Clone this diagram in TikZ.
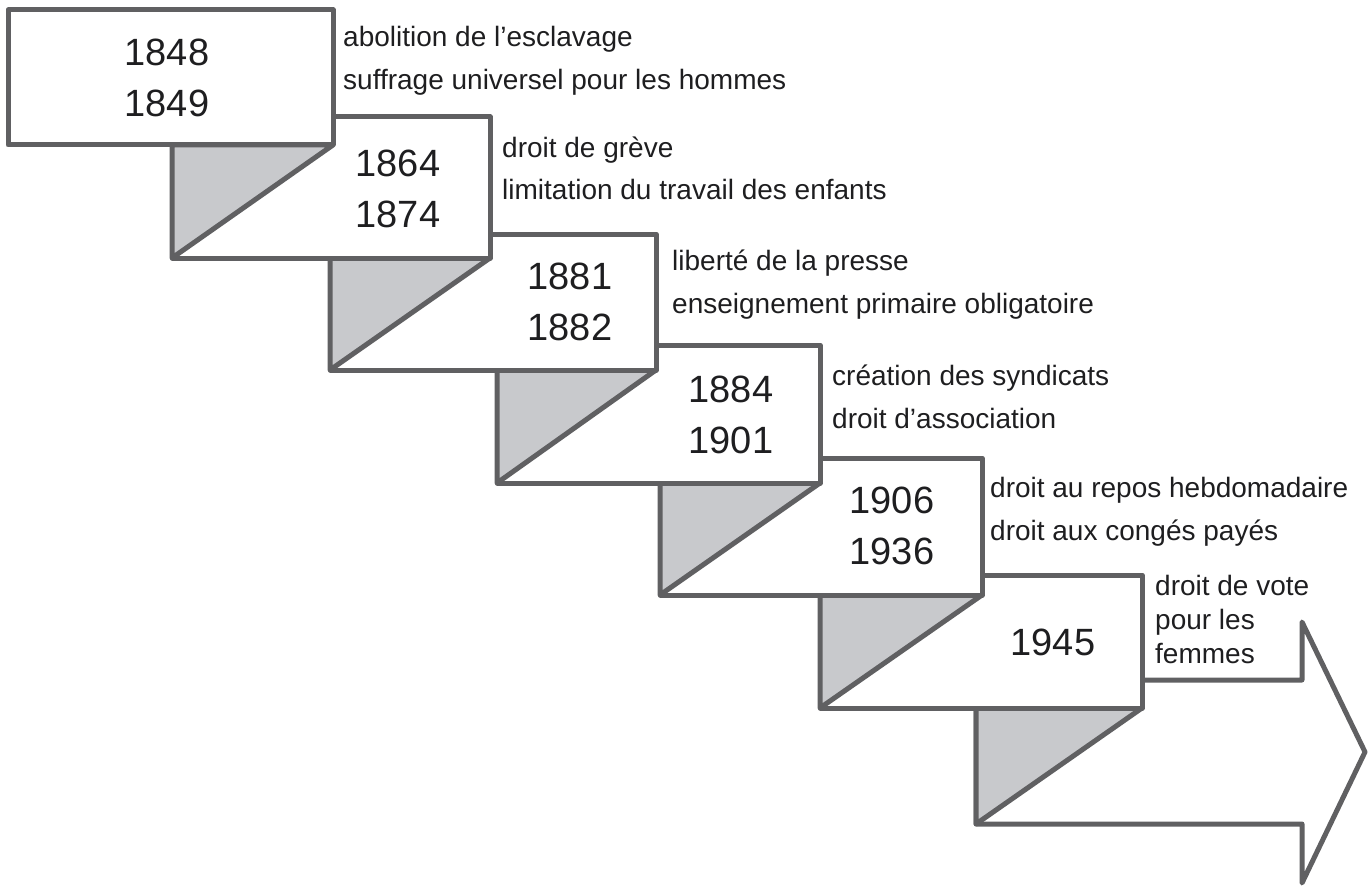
\documentclass[tikz,border=0pt]{standalone}
\usepackage{fontspec}
\setmainfont{Liberation Sans}
\usepackage{xcolor}
\definecolor{stepline}{RGB}{96, 96, 98}
\definecolor{stepshade}{RGB}{200, 201, 204}
\definecolor{inkgrey}{RGB}{30, 30, 32}
\usetikzlibrary{positioning}

\begin{document}
\begin{tikzpicture}[x=1pt, y=-1pt,
    stepedge/.style={line width=5pt, draw=stepline, line join=round},
    yearlabel/.style={align=center, inner sep=0pt, text=inkgrey,
      font=\fontsize{38}{51}\selectfont},
    notelabel/.style={align=left, anchor=base west, inner sep=0pt, text=inkgrey,
      font=\fontsize{28}{43}\selectfont}]

  \useasboundingbox (0,0) rectangle (1371,888);

  % ---------- final arrow and its shaded corner ----------
  \draw[stepedge, fill=white] (976,680) -- (1302,680) -- (1302,622) -- (1365,752)
    -- (1302,883) -- (1302,824) -- (976,824) -- cycle;
  \draw[stepedge, fill=stepshade] (976,708) -- (1142,708) -- (976,824) -- cycle;

  % ---------- steps, last one first so each box hides the next one's corner ----------
  \foreach \l/\r/\t/\b/\pr/\pb in {820/1142/575/708/982/595, 660/982/458/595/820/483,
      497/820/345/483/656/370, 330/656/234/370/490/258, 172/490/117/258/333/145} {
    \draw[stepedge, fill=white] (\l,\t) rectangle (\r,\b);
    \draw[stepedge, fill=stepshade] (\l,\pb) -- (\pr,\pb) -- (\l,\b) -- cycle;
  }
  \draw[stepedge, fill=white] (8,10) rectangle (333,145);

  % ---------- years ----------
  \node[yearlabel] (yr1) at (167,78)  {1848\\1849};
  \node[yearlabel] (yr2) at (398,189) {1864\\1874};
  \node[yearlabel] (yr3) at (570,302) {1881\\1882};
  \node[yearlabel] (yr4) at (731,415) {1884\\1901};
  \node[yearlabel] (yr5) at (892,526) {1906\\1936};
  \node[yearlabel] (yr6) at (1053,642) {1945};

  % ---------- rights won (base = last line) ----------
  \node[notelabel] (note1) at (343,90)  {abolition de l’esclavage\\suffrage universel pour les hommes};
  \node[notelabel] (note2) at (502,200) {droit de grève\\limitation du travail des enfants};
  \node[notelabel] (note3) at (672,313) {liberté de la presse\\enseignement primaire obligatoire};
  \node[notelabel] (note4) at (832,428) {création des syndicats\\droit d’association};
  \node[notelabel] (note5) at (990,540) {droit au repos hebdomadaire\\droit aux congés payés};
  \node[notelabel, font=\fontsize{28}{34}\selectfont] (note6) at (1155,663)
    {droit de vote\\pour les\\femmes};

\end{tikzpicture}
\end{document}
